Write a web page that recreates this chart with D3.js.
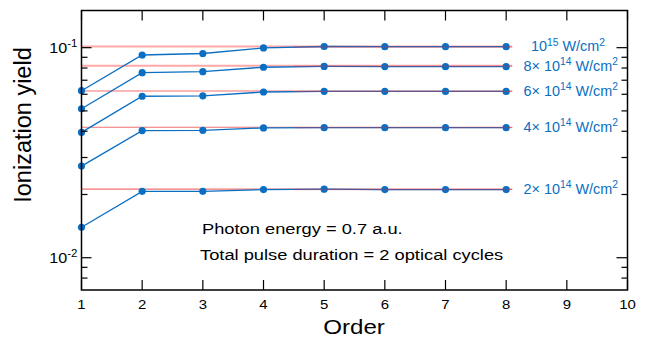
<!DOCTYPE html>
<html>
<head>
<meta charset="utf-8">
<script src="https://cdn.jsdelivr.net/npm/d3@7"></script>
<style>
body{margin:0;background:#fff;}
text{font-family:"Liberation Sans",Arial,sans-serif;}
</style>
</head>
<body>
<svg id="chart" width="645" height="341"></svg>
<script>
// data
const orders=[1,2,3,4,5,6,7,8];
const seriesNames=["1e15","8e14","6e14","4e14","2e14"];
const yield1e15=[0.0624,0.0923,0.0938,0.0997,0.1013,0.1011,0.1011,0.1011];
const yield8e14=[0.0512,0.0760,0.0769,0.0807,0.0814,0.0813,0.0812,0.0812];
const yield6e14=[0.0395,0.0587,0.0590,0.0615,0.0620,0.0620,0.0619,0.0619];
const yield4e14=[0.0273,0.0403,0.0404,0.0415,0.0416,0.0416,0.0416,0.0416];
const yield2e14=[0.01396,0.0207,0.0207,0.0211,0.0212,0.0211,0.0211,0.0211];
const refLevels=[0.1013,0.0821,0.0622,0.0418,0.0212];
const labelPrefix=["","8\u00d7 ","6\u00d7 ","4\u00d7 ","2\u00d7 "];
const labelExp=["15","14","14","14","14"];
const xTicks=[1,2,3,4,5,6,7,8,9,10];
const yMajor=[0.01,0.1];

const allSeries=[yield1e15,yield8e14,yield6e14,yield4e14,yield2e14];

const svg=d3.select("#chart");
const mLeft=81.5,mRight=627.5,mTop=10.5,mBottom=290;
const blue="#0a6fc2";

const x=d3.scaleLinear().domain([1,10]).range([mLeft,mRight]);
const y=d3.scaleLog().domain([0.00702,0.1503]).range([mBottom,mTop]);

// the original text looks stretched sideways
function stretched(px,py,anchor,size,sx){
    return svg.append("text")
        .attr("transform",`translate(${px},${py}) scale(${sx},1)`)
        .attr("text-anchor",anchor)
        .attr("font-size",size);
}

// minor ticks list
const yMinor=[];
[0.001,0.01,0.1].forEach(d=>{
    for(let k=2;k<=9;k++){
        const v=d*k;
        if(v>y.domain()[0]&&v<y.domain()[1])yMinor.push(v);
    }
});

// reference lines
const refStyle=[{c:"#ffa8a8",w:2},{c:"#ffa8a8",w:2},{c:"#f07070",w:1.2},{c:"#f07070",w:1.2},{c:"#f07070",w:1.2}];
svg.selectAll(".ref")
    .data(refLevels)
    .enter()
    .append("line")
    .attr("x1",x(1)).attr("x2",x(8.1))
    .attr("y1",d=>y(d)).attr("y2",d=>y(d))
    .attr("stroke",(d,i)=>refStyle[i].c)
    .attr("stroke-width",(d,i)=>refStyle[i].w);

// series
const line=d3.line().x((d,i)=>x(orders[i])).y(d=>y(d));
allSeries.forEach(s=>{
    svg.append("path")
        .datum(s)
        .attr("d",line)
        .attr("fill","none")
        .attr("stroke",blue)
        .attr("stroke-width",1.3);
    svg.selectAll(null)
        .data(s)
        .enter()
        .append("circle")
        .attr("cx",(d,i)=>x(orders[i]))
        .attr("cy",d=>y(d))
        .attr("r",3.6)
        .attr("fill",blue);
});
// red overlay near right end where it shows dark over blue
svg.selectAll(".refR")
    .data(refLevels)
    .enter()
    .append("line")
    .attr("x1",x(4.5)).attr("x2",x(8.1))
    .attr("y1",d=>y(d)+0.5).attr("y2",d=>y(d)+0.5)
    .attr("stroke","#d0304a")
    .attr("stroke-opacity",0.6)
    .attr("stroke-width",0.8);

// frame
svg.append("rect")
    .attr("x",mLeft).attr("y",mTop)
    .attr("width",mRight-mLeft).attr("height",mBottom-mTop)
    .attr("fill","none").attr("stroke","#000").attr("stroke-width",1.5);

// ticks pointing inward
const tk=svg.append("g").attr("stroke","#000").attr("stroke-width",1.2);
xTicks.forEach(v=>{
    tk.append("line").attr("x1",x(v)).attr("x2",x(v)).attr("y1",mBottom).attr("y2",mBottom-10);
    tk.append("line").attr("x1",x(v)).attr("x2",x(v)).attr("y1",mTop).attr("y2",mTop+10);
});
yMajor.forEach(v=>{
    tk.append("line").attr("x1",mLeft).attr("x2",mLeft+10).attr("y1",y(v)).attr("y2",y(v));
    tk.append("line").attr("x1",mRight).attr("x2",mRight-11).attr("y1",y(v)).attr("y2",y(v));
});
yMinor.forEach(v=>{
    tk.append("line").attr("x1",mLeft).attr("x2",mLeft+6).attr("y1",y(v)).attr("y2",y(v));
    tk.append("line").attr("x1",mRight).attr("x2",mRight-6).attr("y1",y(v)).attr("y2",y(v));
});

// x tick labels
xTicks.forEach(v=>{
    stretched(x(v),309,"middle",13,1.15).text(v);
});

// y tick labels 10^-1, 10^-2
yMajor.forEach(v=>{
    const t=stretched(mLeft-4,y(v)+5,"end",14,1.15);
    t.append("tspan").text("10");
    t.append("tspan").attr("dy",-6).attr("font-size",10).text(Math.round(Math.log10(v)));
});

// series labels
refLevels.forEach((v,i)=>{
    const t=stretched(i===0?605:618,y(v)+5,"end",14,1.03).attr("fill",blue);
    if(labelPrefix[i])t.append("tspan").text(labelPrefix[i]);
    t.append("tspan").text("10");
    t.append("tspan").attr("dy",-6).attr("font-size",10).text(labelExp[i]);
    t.append("tspan").attr("dy",6).text(" W/cm");
    t.append("tspan").attr("dy",-6).attr("font-size",10).text("2");
});

// annotations
stretched(202,233.5,"start",15.5,1.18).text("Photon energy = 0.7 a.u.");
stretched(200,260,"start",15.5,1.18).text("Total pulse duration = 2 optical cycles");

// axis titles
stretched(354,334,"middle",21,1.15).text("Order");
svg.append("text")
    .attr("transform","translate(31,125) rotate(-90)")
    .attr("text-anchor","middle")
    .attr("font-size",23.5)
    .text("Ionization yield");
</script>
</body>
</html>
